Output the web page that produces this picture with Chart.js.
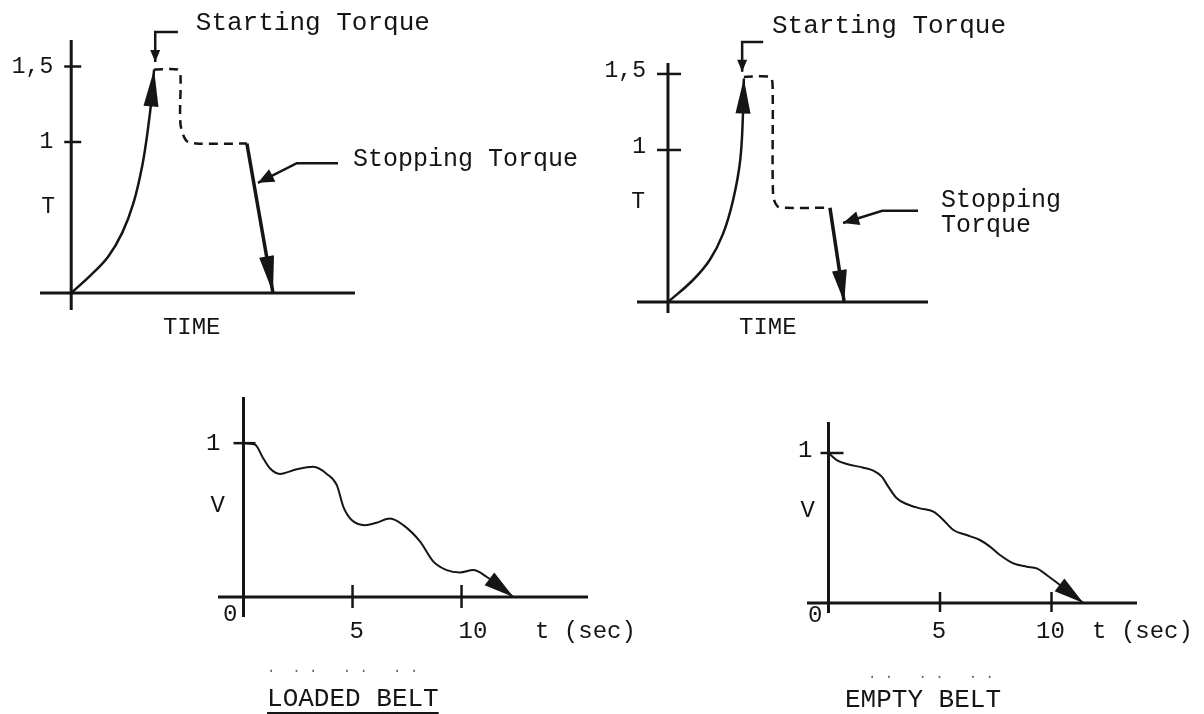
<!DOCTYPE html>
<html>
<head>
<meta charset="utf-8">
<title>Starting / stopping torque and belt speed</title>
<script src="https://cdn.jsdelivr.net/npm/chart.js@4.4.1/dist/chart.umd.min.js"></script>
<style>
  body { margin: 0; background: #fff; }
  #wrap { position: relative; width: 1204px; height: 714px; overflow: hidden; background: #fff; }
  canvas { position: absolute; }
</style>
</head>
<body>
<div id="wrap">
  <canvas id="torqueLoaded" width="600" height="350" style="left:0;top:0"></canvas>
  <canvas id="torqueEmpty" width="614" height="350" style="left:590px;top:0"></canvas>
  <canvas id="speedLoaded" width="560" height="354" style="left:150px;top:360px"></canvas>
  <canvas id="speedEmpty" width="464" height="354" style="left:740px;top:360px"></canvas>
</div>
<script>
// ---- torque, loaded belt (time in arbitrary units) ----
var loadStartTime   = [0, 0.7, 1.3, 1.8, 2.2, 2.5, 2.7, 2.84, 2.92];
var loadStartTorque = [0, 0.12, 0.24, 0.40, 0.60, 0.84, 1.08, 1.30, 1.48];
var loadHoldTime    = [2.92, 3.75, 3.85, 3.85, 4.05, 4.4, 6.19];
var loadHoldTorque  = [1.48, 1.48, 1.44, 1.12, 1.01, 0.99, 0.99];
var loadStopTime    = [6.19, 7.11];
var loadStopTorque  = [0.99, 0];
// callout arrows
var loadStartNoteTime   = [3.76, 2.96, 2.96];
var loadStartNoteTorque = [1.728, 1.728, 1.53];
var loadStopNoteTime    = [9.4, 7.95, 6.58];
var loadStopNoteTorque  = [0.86, 0.86, 0.73];

// ---- torque, empty belt ----
var emptyStartTime   = [0, 0.88, 1.48, 1.94, 2.29, 2.54, 2.64, 2.67];
var emptyStartTorque = [0, 0.145, 0.28, 0.45, 0.67, 0.93, 1.24, 1.47];
var emptyHoldTime    = [2.67, 3.59, 3.68, 3.70, 3.85, 4.1, 5.70];
var emptyHoldTorque  = [1.48, 1.48, 1.43, 0.70, 0.63, 0.62, 0.62];
var emptyStopTime    = [5.70, 6.2];
var emptyStopTorque  = [0.62, 0];
var emptyStartNoteTime   = [3.35, 2.61, 2.61];
var emptyStartNoteTorque = [1.71, 1.71, 1.515];
var emptyStopNoteTime    = [8.8, 7.54, 6.16];
var emptyStopNoteTorque  = [0.6, 0.6, 0.52];

// ---- speed while stopping (t in sec) ----
var loadedTime  = [0, 0.53, 0.91, 1.22, 1.67, 2.44, 3.2, 3.82, 4.28, 4.58, 4.96, 5.57, 6.1, 6.72, 7.33, 8.1, 8.71, 9.32, 9.93, 10.54, 11.16, 12.38];
var loadedSpeed = [1.0, 0.99, 0.90, 0.835, 0.80, 0.83, 0.846, 0.80, 0.727, 0.586, 0.50, 0.467, 0.483, 0.51, 0.467, 0.36, 0.23, 0.175, 0.16, 0.175, 0.13, 0];
var emptyTime   = [0, 0.37, 0.82, 1.56, 2.01, 2.39, 2.68, 3.06, 3.5, 4.1, 4.7, 5.08, 5.6, 6.2, 6.79, 7.24, 7.69, 8.29, 8.89, 9.34, 9.78, 11.43];
var emptySpeed  = [1.0, 0.953, 0.927, 0.902, 0.882, 0.842, 0.776, 0.698, 0.66, 0.631, 0.609, 0.564, 0.487, 0.453, 0.42, 0.376, 0.32, 0.264, 0.242, 0.231, 0.187, 0];

// ticks
var torqueTicks = [1, 1.5];
var torqueTickLabels = ['1', '1,5'];
var speedTicks = [1];
var speedTickLabels = ['1'];
var timeTicks = [5, 10];
var timeTickLabels = ['5', '10'];

var INK = '#151515';
var MONO = '"Liberation Mono", "DejaVu Sans Mono", monospace';

function xy(xs, ys) {
  return xs.map(function(x, i) { return { x: x, y: ys[i] }; });
}

function curve(xs, ys, extra) {
  var ds = {
    data: xy(xs, ys), borderColor: INK, borderWidth: 2.5, pointRadius: 0,
    fill: false, clip: false, tension: 0, borderCapStyle: 'butt'
  };
  for (var k in extra) ds[k] = extra[k];
  return ds;
}

function seg(ctx, x1, y1, x2, y2) {
  ctx.beginPath(); ctx.moveTo(x1, y1); ctx.lineTo(x2, y2); ctx.stroke();
}

// axes, ticks, arrowheads and texts, all placed through the chart scales
function sketch(cfg) {
  return {
    id: 'sketch',
    afterDatasetsDraw: function(chart) {
      var ctx = chart.ctx, a = chart.chartArea;
      var sx = chart.scales.x, sy = chart.scales.y;
      var x0 = sx.getPixelForValue(0), y0 = sy.getPixelForValue(0);
      ctx.save();
      ctx.strokeStyle = INK; ctx.fillStyle = INK;
      ctx.lineWidth = 3;
      seg(ctx, a.left, y0, a.right, y0);
      seg(ctx, x0, a.top, x0, a.bottom);

      ctx.textBaseline = 'alphabetic';
      var yt = cfg.yTicks;
      yt.values.forEach(function(v, i) {
        var y = sy.getPixelForValue(v);
        ctx.lineWidth = 2.5;
        seg(ctx, x0 - yt.len[0], y, x0 + yt.len[1], y);
        ctx.font = yt.font; ctx.textAlign = 'right';
        ctx.fillText(yt.labels[i], x0 + yt.dx, y + yt.dy);
      });
      if (cfg.xTicks) {
        var xt = cfg.xTicks;
        xt.values.forEach(function(v, i) {
          var x = sx.getPixelForValue(v);
          ctx.lineWidth = 2.5;
          seg(ctx, x, y0 - xt.len[0], x, y0 + xt.len[1]);
          ctx.font = xt.font; ctx.textAlign = xt.align;
          ctx.fillText(xt.labels[i], x + xt.dx, y0 + xt.dy);
        });
      }

      cfg.arrows.forEach(function(ar) {
        var pts = chart.getDatasetMeta(ar.ds).data;
        var p = pts[pts.length - 1], bx, by;
        if (p.cp1x !== undefined && Math.abs(p.cp1x - p.x) + Math.abs(p.cp1y - p.y) > 0.5) {
          bx = p.cp1x; by = p.cp1y;
        } else {
          bx = pts[pts.length - 2].x; by = pts[pts.length - 2].y;
        }
        var ang = Math.atan2(p.y - by, p.x - bx);
        var c = Math.cos(ang), s = Math.sin(ang);
        var baseX = p.x - c * ar.len, baseY = p.y - s * ar.len;
        ctx.beginPath();
        ctx.moveTo(p.x, p.y);
        ctx.lineTo(baseX - s * ar.half, baseY + c * ar.half);
        ctx.lineTo(baseX + s * ar.half, baseY - c * ar.half);
        ctx.closePath();
        ctx.fill();
      });

      cfg.texts.forEach(function(t) {
        var x = sx.getPixelForValue(t.x), y = sy.getPixelForValue(t.y);
        ctx.font = t.font; ctx.textAlign = t.align || 'left';
        if (t.color) ctx.fillStyle = t.color; else ctx.fillStyle = INK;
        ctx.fillText(t.text, x, y);
        if (t.underline) {
          var w = ctx.measureText(t.text).width;
          ctx.lineWidth = 2;
          seg(ctx, x, y + 7, x + w, y + 7);
        }
      });
      ctx.restore();
    }
  };
}

function drawChart(id, box, datasets, cfg) {
  return new Chart(document.getElementById(id), {
    type: 'line',
    data: { datasets: datasets },
    options: {
      responsive: false,
      animation: false,
      events: [],
      layout: { padding: box.pad },
      scales: {
        x: { type: 'linear', min: box.x[0], max: box.x[1], display: false },
        y: { type: 'linear', min: box.y[0], max: box.y[1], display: false }
      },
      plugins: { legend: { display: false }, tooltip: { enabled: false } }
    },
    plugins: [sketch(cfg)]
  });
}

var F26 = '26px ' + MONO, F25 = '25px ' + MONO, F23 = '23px ' + MONO, F24 = '24px ' + MONO;

// top left: loaded belt torque
drawChart('torqueLoaded',
  { pad: { left: 40, right: 245, top: 40, bottom: 40 }, x: [-1.1, 10], y: [-0.1126, 1.6755] },
  [
    curve(loadStartTime, loadStartTorque, { tension: 0.4 }),
    curve(loadHoldTime, loadHoldTorque, { borderDash: [9, 6], tension: 0.3 }),
    curve(loadStopTime, loadStopTorque, { borderWidth: 3.5 }),
    curve(loadStartNoteTime, loadStartNoteTorque, { borderWidth: 2.5 }),
    curve(loadStopNoteTime, loadStopNoteTorque, { borderWidth: 2.5 })
  ],
  {
    yTicks: { values: torqueTicks, labels: torqueTickLabels, len: [7, 10], dx: -18, dy: 6, font: F23 },
    arrows: [{ ds: 0, len: 37, half: 7.5 }, { ds: 2, len: 37, half: 7.5 },
             { ds: 3, len: 12, half: 5 }, { ds: 4, len: 16, half: 7 }],
    texts: [
      { text: 'Starting Torque', x: 4.39, y: 1.742, font: F26 },
      { text: 'Stopping Torque', x: 9.93, y: 0.841, font: F25 },
      { text: 'T', x: -0.57, y: 0.53, font: F23, align: 'right' },
      { text: 'TIME', x: 3.23, y: -0.27, font: F24 }
    ]
  });

// top right: empty belt torque
drawChart('torqueEmpty',
  { pad: { left: 47, right: 276, top: 63, bottom: 37 }, x: [-1.09, 9.15], y: [-0.072, 1.572] },
  [
    curve(emptyStartTime, emptyStartTorque, { tension: 0.4 }),
    curve(emptyHoldTime, emptyHoldTorque, { borderDash: [9, 6], tension: 0.3 }),
    curve(emptyStopTime, emptyStopTorque, { borderWidth: 3.5 }),
    curve(emptyStartNoteTime, emptyStartNoteTorque, { borderWidth: 2.5 }),
    curve(emptyStopNoteTime, emptyStopNoteTorque, { borderWidth: 2.5 })
  ],
  {
    yTicks: { values: torqueTicks, labels: torqueTickLabels, len: [11, 13], dx: -22, dy: 3, font: F23 },
    arrows: [{ ds: 0, len: 35, half: 7.5 }, { ds: 2, len: 32, half: 7.5 },
             { ds: 3, len: 12, half: 5 }, { ds: 4, len: 16, half: 7 }],
    texts: [
      { text: 'Starting Torque', x: 3.66, y: 1.77, font: F26 },
      { text: 'Stopping', x: 9.61, y: 0.625, font: F25 },
      { text: 'Torque', x: 9.61, y: 0.46, font: F25 },
      { text: 'T', x: -0.81, y: 0.62, font: F23, align: 'right' },
      { text: 'TIME', x: 2.5, y: -0.21, font: F24 }
    ]
  });

// bottom left: loaded belt speed
drawChart('speedLoaded',
  { pad: { left: 68, right: 122, top: 37, bottom: 97 }, x: [-1.17, 15.8], y: [-0.13, 1.30] },
  [ curve(loadedTime, loadedSpeed, { borderWidth: 2, cubicInterpolationMode: 'monotone' }) ],
  {
    yTicks: { values: speedTicks, labels: speedTickLabels, len: [10, 12], dx: -23, dy: 7, font: F24 },
    xTicks: { values: timeTicks, labels: timeTickLabels, len: [12, 11], dx: -3, dy: 41, align: 'left', font: F24 },
    arrows: [{ ds: 0, len: 30, half: 8 }],
    texts: [
      { text: 'V', x: -0.85, y: 0.55, font: F24, align: 'right' },
      { text: '0', x: -0.94, y: -0.156, font: F24 },
      { text: 't (sec)', x: 13.37, y: -0.266, font: F24 },
      { text: '.  . .   . .   . .', x: 1.08, y: -0.487, font: '14px ' + MONO, color: '#666' },
      { text: 'LOADED BELT', x: 1.08, y: -0.708, font: F26, underline: true }
    ]
  });

// bottom right: empty belt speed
drawChart('speedEmpty',
  { pad: { left: 67, right: 67, top: 62, bottom: 101 }, x: [-0.964, 13.834], y: [-0.0667, 1.2067] },
  [ curve(emptyTime, emptySpeed, { borderWidth: 2, cubicInterpolationMode: 'monotone' }) ],
  {
    yTicks: { values: speedTicks, labels: speedTickLabels, len: [8, 15], dx: -16, dy: 4, font: F24 },
    xTicks: { values: timeTicks, labels: timeTickLabels, len: [11, 9], dx: -1, dy: 35, align: 'center', font: F24 },
    arrows: [{ ds: 0, len: 30, half: 8 }],
    texts: [
      { text: 'V', x: -0.61, y: 0.573, font: F24, align: 'right' },
      { text: '0', x: -0.92, y: -0.127, font: F24 },
      { text: 't (sec)', x: 11.82, y: -0.233, font: F24 },
      { text: '. .   . .   . .', x: 1.77, y: -0.5, font: '14px ' + MONO, color: '#666' },
      { text: 'EMPTY BELT', x: 0.74, y: -0.693, font: F26 }
    ]
  });
</script>
</body>
</html>
